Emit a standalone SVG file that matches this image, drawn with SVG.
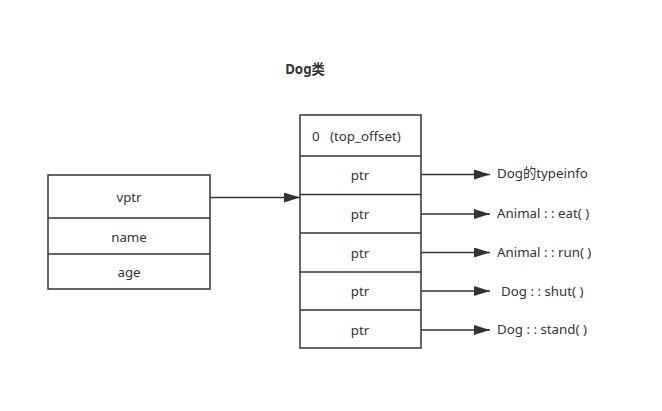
<svg xmlns="http://www.w3.org/2000/svg" width="662" height="411" viewBox="0 0 662 411">
<style>
.box{fill:#fff;stroke:#333;stroke-width:1.5}
.div{stroke:#333;stroke-width:1.5}
.t{font-family:"Noto Sans","Noto Sans CJK SC",sans-serif;font-size:13.3px;fill:#333;white-space:pre}
.c{text-anchor:middle}
.ln{stroke:#333;stroke-width:1.5;fill:none}
</style>
<defs>
<marker id="ah" markerWidth="16" markerHeight="10" refX="16" refY="5" orient="auto" markerUnits="userSpaceOnUse">
<path d="M0,0 L16,5 L0,10 Z" fill="#333"/>
</marker>
</defs>
<rect width="662" height="411" fill="#fff"/>
<text class="t" x="305" y="74" text-anchor="middle" font-weight="bold">Dog类</text>
<g id="object">
<rect class="box" x="48" y="175" width="162" height="114"/>
<line class="div" x1="48" y1="218" x2="210" y2="218"/>
<line class="div" x1="48" y1="254" x2="210" y2="254"/>
<text class="t c" x="129" y="202">vptr</text>
<text class="t c" x="129" y="242">name</text>
<text class="t c" x="129" y="277">age</text>
</g>
<g id="vtable">
<rect class="box" x="300" y="115" width="121" height="233"/>
<line class="div" x1="300" y1="156" x2="421" y2="156"/>
<line class="div" x1="300" y1="194.5" x2="421" y2="194.5"/>
<line class="div" x1="300" y1="233" x2="421" y2="233"/>
<line class="div" x1="300" y1="272" x2="421" y2="272"/>
<line class="div" x1="300" y1="310" x2="421" y2="310"/>
<text class="t" x="312" y="141" xml:space="preserve">0   (top_offset)</text>
<text class="t c" x="360" y="180">ptr</text>
<text class="t c" x="360" y="219">ptr</text>
<text class="t c" x="360" y="258">ptr</text>
<text class="t c" x="360" y="296">ptr</text>
<text class="t c" x="360" y="335">ptr</text>
</g>
<g id="targets">
<text class="t" x="497" y="178">Dog的typeinfo</text>
<text class="t" x="497" y="218">Animal : : eat( )</text>
<text class="t" x="497" y="257">Animal : : run( )</text>
<text class="t" x="501" y="296">Dog : : shut( )</text>
<text class="t" x="497" y="334">Dog : : stand( )</text>
</g>
<g id="connectors">
<path class="ln" d="M210,197.5 L300,197.5" marker-end="url(#ah)"/>
<path class="ln" d="M421,174.5 L490,174.5" marker-end="url(#ah)"/>
<path class="ln" d="M421,214 L490,214" marker-end="url(#ah)"/>
<path class="ln" d="M421,252.5 L490,252.5" marker-end="url(#ah)"/>
<path class="ln" d="M421,291 L490,291" marker-end="url(#ah)"/>
<path class="ln" d="M421,330 L490,330" marker-end="url(#ah)"/>
</g>
</svg>
